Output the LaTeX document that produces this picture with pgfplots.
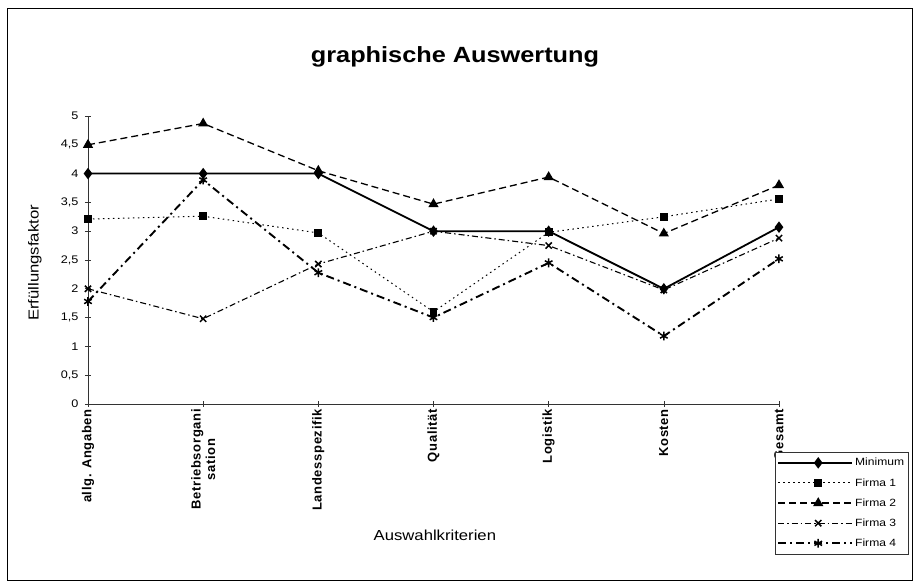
\documentclass[border=0pt]{standalone}
\usepackage{pgfplots}
\pgfplotsset{compat=1.18}
\usepackage{fontspec}
\setmainfont[FakeStretch=1.15]{Liberation Sans}
\newfontfamily\tickfont[LetterSpace=5]{Liberation Sans}
\begin{document}
\begin{tikzpicture}
\path (0pt,0pt) rectangle (914pt,586pt);
\draw[line width=0.8pt] (7pt,6pt) rectangle (912pt,578pt);
\node[font=\bfseries\fontsize{22}{26}\selectfont] at (455pt,529pt) {graphische Auswertung};
\begin{axis}[
  at={(88pt,182pt)}, anchor=south west,
  scale only axis, width=691pt, height=288pt,
  xmin=0, xmax=6, ymin=0, ymax=5,
  axis lines*=left,
  axis line style={-, line width=0.7pt, black!80},
  tick align=center, major tick length=6pt,
  tick style={black!80, line width=0.6pt},
  xtick={0,1,2,3,4,5,6},
  xticklabels={allg. Angaben,{Betriebsorgani\\sation},Landesspezifik,Qualität,Logistik,Kosten,Gesamt},
  xticklabel style={rotate=90, anchor=east, align=center, inner sep=2pt,
    font=\tickfont\bfseries\fontsize{13}{14.5}\selectfont},
  ytick={0,0.5,1,1.5,2,2.5,3,3.5,4,4.5,5},
  yticklabels={0,{0,5},1,{1,5},2,{2,5},3,{3,5},4,{4,5},5},
  yticklabel style={font=\fontsize{11}{12}\selectfont, xshift=-3pt},
  ylabel={Erfüllungsfaktor},
  ylabel style={at={(axis description cs:-0.077,0.49)}, rotate=0, anchor=center, font=\fontsize{14.5}{16}\selectfont},
  xlabel={Auswahlkriterien},
  xlabel style={at={(axis description cs:0.502,-0.455)}, anchor=center, font=\fontsize{14.5}{16}\selectfont},
  clip=false,
  legend style={at={(axis description cs:0.9942,-0.1667)}, anchor=north west,
    draw=black!80, line width=0.6pt, font=\fontsize{10.5}{12}\selectfont,
    row sep=7pt, inner xsep=2pt, inner ysep=4pt},
  legend cell align=left,
  legend image code/.code={\draw[mark repeat=2,mark phase=2,#1] plot coordinates {(0pt,0pt) (40pt,0pt) (74pt,0pt)};},
]
\addplot[black, line width=1.8pt, mark=diamond*, mark size=4.3pt, mark options={solid}]
  coordinates {(0,4) (1,4) (2,4) (3,3) (4,3) (5,2) (6,3.07)};
\addlegendentry{Minimum}
\addplot[black, line width=1pt, dash pattern=on 1.5pt off 3.5pt, mark=square*, mark size=3.4pt, mark options={solid}]
  coordinates {(0,3.21) (1,3.26) (2,2.97) (3,1.6) (4,2.98) (5,3.25) (6,3.56)};
\addlegendentry{Firma 1}
\addplot[black, line width=1.3pt, dash pattern=on 7pt off 4pt, mark=triangle*, mark size=4.6pt, mark options={solid}]
  coordinates {(0,4.5) (1,4.87) (2,4.05) (3,3.47) (4,3.94) (5,2.96) (6,3.8)};
\addlegendentry{Firma 2}
\addplot[black, line width=1.1pt, dash pattern=on 6pt off 3pt on 1.5pt off 3pt, mark=x, mark size=4.4pt, mark options={solid, line width=1.5pt}]
  coordinates {(0,2.0) (1,1.48) (2,2.43) (3,3.0) (4,2.75) (5,1.98) (6,2.88)};
\addlegendentry{Firma 3}
\addplot[black, line width=1.9pt, dash pattern=on 8pt off 4pt on 2pt off 4pt, mark=asterisk, mark size=4.4pt, mark options={solid, line width=1.5pt}]
  coordinates {(0,1.78) (1,3.89) (2,2.28) (3,1.5) (4,2.45) (5,1.18) (6,2.52)};
\addlegendentry{Firma 4}
\end{axis}
\end{tikzpicture}
\end{document}
